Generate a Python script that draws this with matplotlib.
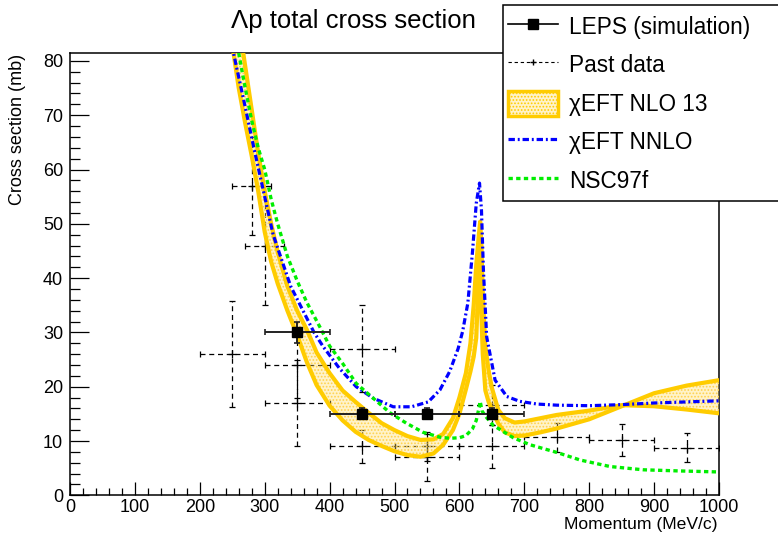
import matplotlib
matplotlib.use('Agg')
import matplotlib.pyplot as plt
from matplotlib.lines import Line2D
from matplotlib.patches import Patch, Rectangle
from matplotlib.ticker import MultipleLocator

plt.rcParams['font.family'] = ['Liberation Sans', 'DejaVu Sans']
plt.rcParams['hatch.linewidth'] = 0.8

# LEPS simulated points (momentum MeV/c, cross section mb)
leps_p = [350, 450, 550, 650]
leps_xs = [30.0, 15.0, 15.0, 15.0]
leps_dp = [50, 50, 50, 50]
leps_dxs = [2.0, 1.0, 1.0, 1.0]

# past measurements
past_p = [250, 280, 300, 350, 350, 450, 450, 550, 550, 650, 650, 750, 850, 950]
past_xs = [26.0, 57.0, 46.0, 24.0, 17.0, 27.0, 9.0, 9.0, 7.0, 16.6, 9.0, 10.7, 10.2, 8.8]
past_dp = [50, 30, 30, 50, 50, 50, 50, 50, 50, 50, 50, 50, 50, 50]
past_dxs = [9.7, 9.0, 11.0, 6.0, 8.0, 8.0, 3.0, 2.7, 4.3, 3.7, 4.0, 2.7, 2.9, 2.6]

# chiral EFT NLO13 band edges
nlo_p = [250, 260, 270, 280, 290, 300, 310, 320, 335, 350, 365, 380, 400, 420, 440,
         460, 480, 500, 520, 540, 560, 575, 590, 600, 610, 617, 622, 626, 630, 632,
         634, 636, 640, 645, 650, 660, 670, 685, 700, 725, 750, 800, 850, 900, 950, 1000]
nlo_a = [95, 87, 79, 71, 63, 56, 50, 44.8, 38.5, 34, 30.5, 26.3, 22.5, 19.3, 17.2,
         15.2, 13.3, 12.0, 10.9, 10.2, 10.3, 11.3, 14.2, 18.0, 22.5, 28.0, 35.0, 42.5, 48.0, 50.4,
         46.0, 37.0, 27.4, 23.0, 19.8, 15.7, 14.2, 13.4, 13.6, 14.2, 14.8, 15.6, 16.6, 16.4, 15.8, 15.1]
nlo_b = [83, 75, 68.5, 62.5, 56, 48.5, 43, 39, 34, 29.5, 24.5, 20.3, 16.5, 13.8, 11.7,
         10.2, 9.1, 8.1, 7.4, 7.1, 7.7, 9.3, 12.0, 15.0, 19.5, 22.8, 25.5, 29.0, 41.5, 45.0,
         33.0, 26.0, 19.3, 17.2, 15.7, 13.2, 11.6, 10.9, 11.0, 11.6, 12.3, 14.0, 16.4, 18.8, 20.2, 21.2]

# chiral EFT NNLO
nnlo_p = [240, 252, 270, 284, 300, 313, 340, 376, 390, 415, 441, 467, 498, 526, 552, 570,
          585, 598, 605, 613, 620, 626, 631, 634, 637, 642, 655, 673, 693, 720, 750, 800,
          850, 900, 950, 1000]
nnlo_xs = [88, 81.4, 71.5, 63.6, 55, 48, 38.5, 30, 27.4, 23.4, 20, 17.9, 16.3, 16.3, 17.2, 19.4,
           22.8, 27, 30.2, 35.4, 44.6, 53.8, 57.5, 52.5, 41.5, 29.2, 21.2, 18.2, 17.3, 16.8, 16.6, 16.5,
           16.7, 17.0, 17.2, 17.4]

# NSC97f
nsc_p = [250, 260, 270, 280, 290, 300, 310, 320, 335, 350, 365, 385, 400, 420, 441, 467,
         493, 518, 544, 570, 585, 600, 610, 620, 626, 630, 632, 635, 642, 652, 660, 683,
         709, 750, 786, 832, 883, 935, 1000]
nsc_xs = [87, 81.4, 75, 69, 64, 60, 54.5, 50, 44, 39.5, 35.5, 31, 27.5, 24.3, 20.6, 17.9,
          15.2, 13.3, 11.6, 10.7, 10.5, 10.6, 11.0, 12.2, 13.8, 16.0, 17.3, 15.5, 14.3, 12.9, 12.3, 10.6,
          9.3, 7.9, 6.5, 5.3, 4.7, 4.5, 4.3]

orange = '#ffcc00'
band_face = (1.0, 0.87, 0.4, 0.35)
blue_ls = (0, (2.0, 0.9, 0.6, 0.9))
green_ls = (0, (1.3, 1.0))

fig = plt.figure(figsize=(7.78, 5.39), dpi=100)
ax = fig.add_axes([70 / 778, 1 - 495.3 / 539, 649 / 778, 442 / 539])

# past data: dashed error crosses
eb = ax.errorbar(past_p, past_xs, xerr=past_dp, yerr=past_dxs, fmt='+', color='k',
                 ms=6, mew=0.9, elinewidth=0.9, capsize=2, capthick=0.9, zorder=2)
for col in eb[2]:
    col.set_linestyle((0, (4, 3)))

# NLO band
ax.fill_between(nlo_p, nlo_a, nlo_b, facecolor=band_face,
                edgecolor='#ffd24d', hatch='.....', linewidth=0, zorder=3)
ax.plot(nlo_p, nlo_a, color=orange, lw=3, zorder=3.5, solid_joinstyle='round')
ax.plot(nlo_p, nlo_b, color=orange, lw=3, zorder=3.5, solid_joinstyle='round')

ax.plot(nnlo_p, nnlo_xs, color='#0000ff', lw=2.3, linestyle=blue_ls, zorder=4)
ax.plot(nsc_p, nsc_xs, color='#00ee00', lw=2.4, linestyle=green_ls, zorder=4.5)

ax.errorbar(leps_p, leps_xs, xerr=leps_dp, yerr=leps_dxs, fmt='s', color='#222222',
            mfc='k', mec='k', ms=7.5, elinewidth=1.4, capsize=2.5, capthick=1.2, zorder=6)

ax.set_xlim(0, 1000)
ax.set_ylim(0, 81.4)
ax.xaxis.set_major_locator(MultipleLocator(100))
ax.xaxis.set_minor_locator(MultipleLocator(20))
ax.yaxis.set_major_locator(MultipleLocator(10))
ax.yaxis.set_minor_locator(MultipleLocator(2))
ax.tick_params(which='both', direction='in', top=False, right=False, width=0.9,
               labelsize=13)
ax.tick_params(axis='y', which='major', length=13.5, pad=5)
ax.tick_params(axis='y', which='minor', length=7)
ax.tick_params(axis='x', which='major', length=9.4, pad=2.5)
ax.tick_params(axis='x', which='minor', length=4.7)
for s in ax.spines.values():
    s.set_linewidth(1.1)

fig.text(353 / 778, 1 - 21 / 539, 'Λp total cross section', fontsize=18.5,
         ha='center', va='center')
fig.text(18 / 778, 1 - 54 / 539, 'Cross section (mb)', fontsize=13,
         rotation=90, ha='center', va='top')
fig.text(718 / 778, 1 - 525 / 539, 'Momentum (MeV/c)', fontsize=12.6,
         ha='right', va='center')

# legend box runs off the right edge
fig.patches.append(Rectangle((503 / 778, 1 - 201 / 539), 290 / 778, 196 / 539,
                             transform=fig.transFigure, facecolor='white',
                             edgecolor='k', lw=1.1, zorder=9))
handles = [
    Line2D([], [], color='k', lw=1.2, marker='s', ms=7),
    Line2D([], [], color='k', lw=0.8, ls=(0, (3, 2.5)), marker='+', ms=4),
    Patch(facecolor=band_face, edgecolor=orange, hatch='.....', lw=2.5),
    Line2D([], [], color='#0000ff', lw=2.3, linestyle=blue_ls),
    Line2D([], [], color='#00ee00', lw=2.4, linestyle=green_ls),
]
labels = ['LEPS (simulation)', 'Past data', 'χEFT NLO 13', 'χEFT NNLO', 'NSC97f']
leg = fig.legend(handles, labels, loc='upper left', bbox_to_anchor=(508 / 778, 1 - 14 / 539),
                 frameon=False, fontsize=16.3,
                 handlelength=2.2, handleheight=1.3, handletextpad=0.5,
                 labelspacing=0.6, borderpad=0, borderaxespad=0)
leg.set_zorder(10)

fig.savefig('out.png', dpi=100)
